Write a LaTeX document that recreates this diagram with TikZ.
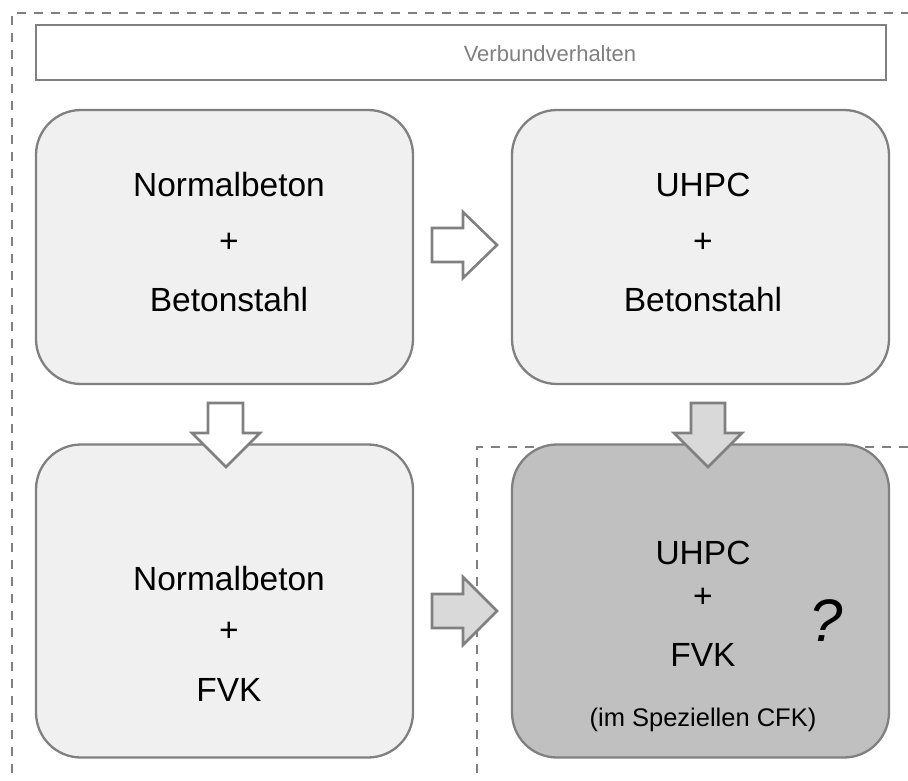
\documentclass[tikz,border=0pt]{standalone}
\usepackage{fontspec}
\setmainfont{Liberation Sans}
\definecolor{edge}{HTML}{808080}
\definecolor{boxfill}{HTML}{F0F0F0}
\definecolor{darkfill}{HTML}{C0C0C0}
\definecolor{arrowfill}{HTML}{D9D9D9}
\begin{document}
\begin{tikzpicture}[x=1pt,y=-1pt,
  stagebox/.style={draw=edge,line width=2.3pt,fill=boxfill,rounded corners=45pt,
    minimum width=377pt,inner sep=0pt},
  bigtext/.style={font=\fontsize{33.5}{40}\selectfont,inner sep=0pt},
  smalltext/.style={font=\fontsize{25.5}{30}\selectfont,inner sep=0pt},
  blockarrow/.style={draw=edge,line width=2.6pt,line join=miter},
  frame/.style={draw=edge,line width=2.3pt,dash pattern=on 9pt off 8pt}]
\useasboundingbox (0,0) rectangle (908,781);
% dashed frames
\draw[frame] (12,790) -- (12,13) -- (915,13);
\draw[frame] (477,790) -- (477,447) -- (915,447);
% header
\node[draw=edge,line width=2.3pt,fill=white,minimum width=850pt,minimum height=55pt,inner sep=0pt] (head) at (461,52.5) {};
\node[text=edge,inner sep=0pt,font=\fontsize{22}{26}\selectfont] (headtext) at (550,54) {Verbundverhalten};
% boxes
\node[stagebox,minimum height=274pt] (tl) at (224.5,247) {};
\node[stagebox,minimum height=274pt] (tr) at (700.5,247) {};
\node[stagebox,minimum height=313pt] (bl) at (224.5,601) {};
\node[stagebox,minimum height=313pt,fill=darkfill] (br) at (700.5,601) {};
% texts
\node[bigtext] (tl1) at (229,185) {Normalbeton};
\node[bigtext] (tl2) at (229,243) {+};
\node[bigtext] (tl3) at (229,300) {Betonstahl};
\node[bigtext] (tr1) at (703,185) {UHPC};
\node[bigtext] (tr2) at (703,243) {+};
\node[bigtext] (tr3) at (703,300) {Betonstahl};
\node[bigtext] (bl1) at (229,579) {Normalbeton};
\node[bigtext] (bl2) at (229,632) {+};
\node[bigtext] (bl3) at (229,690) {FVK};
\node[bigtext] (br1) at (703,553) {UHPC};
\node[bigtext] (br2) at (703,598) {+};
\node[bigtext] (br3) at (703,655) {FVK};
\node[smalltext] (br4) at (703,720) {(im Speziellen CFK)};
\node[inner sep=0pt,font=\fontsize{60}{70}\selectfont\itshape] (q) at (826,621) {?};
% block arrows
\draw[blockarrow,fill=white] (432,228) -- (463,228) -- (463,212) -- (497,245) -- (463,278) -- (463,262) -- (432,262) -- cycle;
\draw[blockarrow,fill=white] (208,403) -- (243,403) -- (243,433) -- (260,433) -- (226,467) -- (192,433) -- (208,433) -- cycle;
\draw[blockarrow,fill=arrowfill] (691,403) -- (725,403) -- (725,433) -- (742,433) -- (708,467) -- (674,433) -- (691,433) -- cycle;
\draw[blockarrow,fill=arrowfill] (432,594) -- (463,594) -- (463,577) -- (497,611) -- (463,645) -- (463,628) -- (432,628) -- cycle;
\end{tikzpicture}
\end{document}
